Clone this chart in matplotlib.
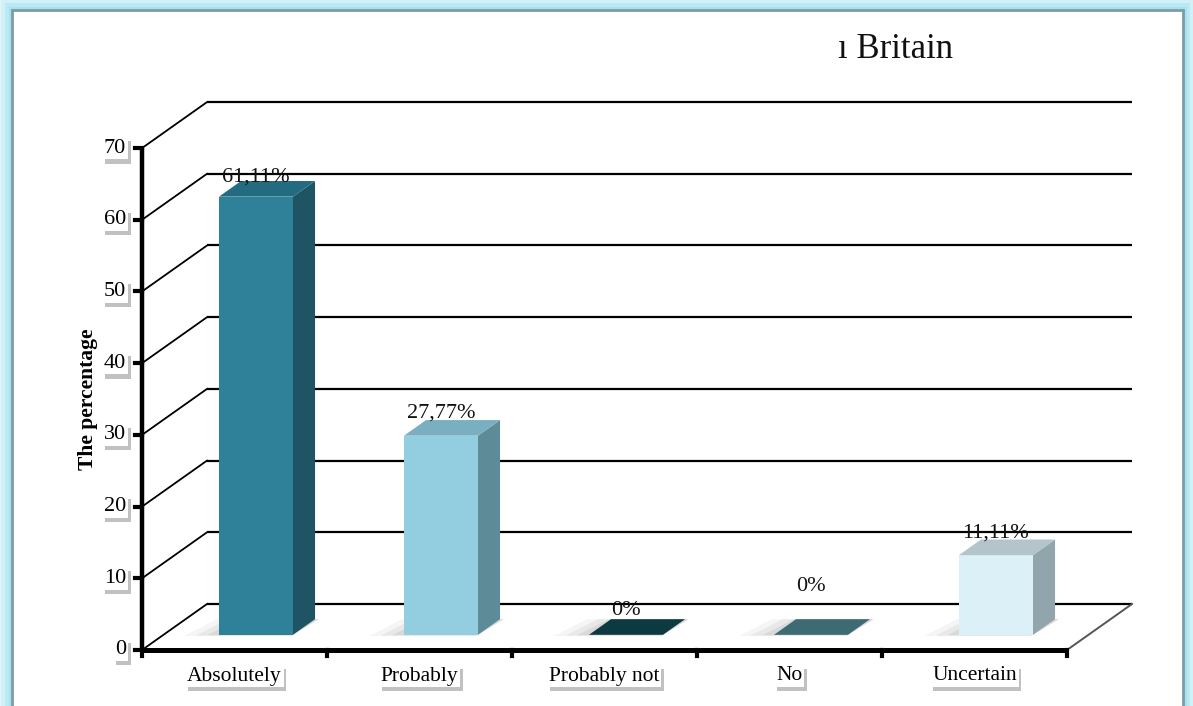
import matplotlib.pyplot as plt
from matplotlib.patches import Polygon, Rectangle
import matplotlib.patheffects as pe

categories = ["Absolutely", "Probably", "Probably not", "No", "Uncertain"]
values = [61.11, 27.77, 0, 0, 11.11]
value_labels = ["61,11%", "27,77%", "0%", "0%", "11,11%"]
y_ticks = [0, 10, 20, 30, 40, 50, 60, 70]

# front / top / side colours of each bar
front_cols = ["#2e8199", "#93cde0", "#0d3a40", "#3e6a73", "#dcf0f7"]
top_cols = ["#236b80", "#7aafc1", "#0d3a40", "#3e6a73", "#b3c4ca"]
side_cols = ["#1e5464", "#5e8b98", "#0a2f34", "#33585f", "#93a5ac"]
label_lift = [0.55, 1.0, 1.25, 4.5, 0.9]

W, H = 1193, 706
PX0, PY0 = 142, 650       # front origin of the plot in pixels
CAT_PX = 185              # pixels per category
VAL_PX = 7.17             # pixels per value unit
DX = 65 / CAT_PX          # depth shift in category units
DY = 46 / VAL_PX          # depth shift in value units
Z0, Z1 = 0.33, 0.67       # bar depth range
HALF = 0.2                # half bar width

SERIF = "Liberation Serif"


def proj(x, y, z):
    return (x + DX * z, y + DY * z)


fig = plt.figure(figsize=(W / 100, H / 100), dpi=100)
fig.patch.set_facecolor("#e3f6fb")
ax = fig.add_axes([0, 0, 1, 1])
ax.set_xlim(-0.5 - PX0 / CAT_PX, -0.5 + (W - PX0) / CAT_PX)
ax.set_ylim(-(H - PY0) / VAL_PX, PY0 / VAL_PX)
ax.axis("off")

# frame
for lw, a in [(16, 0.25), (10, 0.45), (5, 0.7)]:
    ax.add_patch(Rectangle((12 / W, -0.05), (1183 - 12) / W, 1.05 - 10 / H,
                           transform=ax.transAxes, fc="none", ec="#9fe0f0",
                           lw=lw, alpha=a, zorder=0))
ax.add_patch(Rectangle((12 / W, -0.05), (1183 - 12) / W, 1.05 - 10 / H,
                       transform=ax.transAxes, fc="white", ec="#7d9ca4",
                       lw=2, zorder=0.5))

x_left, x_right = -0.5, len(categories) - 0.5

# back wall grid lines and left wall diagonals
for v in y_ticks:
    bx0, by0 = proj(x_left, v, 1)
    bx1, by1 = proj(x_right, v, 1)
    ax.plot([bx0, bx1], [by0, by1], color="black", lw=1.6, zorder=1,
            solid_capstyle="butt")
    ax.plot([x_left, bx0], [v, by0], color="black", lw=1.3, zorder=1)

# floor right edge
fx, fy = proj(x_right, 0, 1)
ax.plot([x_right, fx], [0, fy], color="#555555", lw=1.4, zorder=1)

# bars
for i, v in enumerate(values):
    xl, xr = i - HALF, i + HALF
    # soft floor shadow
    for k, a in [(0.09, 0.06), (0.06, 0.08), (0.03, 0.10)]:
        sh = [proj(xl - 2 * k, 0, Z0 - k * 0.3), proj(xr, 0, Z0 - k * 0.3),
              proj(xr + 0.02, 0, Z1), proj(xl - 2 * k + 0.05, 0, Z1)]
        ax.add_patch(Polygon(sh, closed=True, fc="#555555", ec="none",
                             alpha=a, zorder=1.5))
    top = [proj(xl, v, Z0), proj(xr, v, Z0), proj(xr, v, Z1), proj(xl, v, Z1)]
    if v > 0:
        front = [proj(xl, 0, Z0), proj(xr, 0, Z0), proj(xr, v, Z0), proj(xl, v, Z0)]
        side = [proj(xr, 0, Z0), proj(xr, 0, Z1), proj(xr, v, Z1), proj(xr, v, Z0)]
        ax.add_patch(Polygon(side, closed=True, fc=side_cols[i], ec="none", zorder=2))
        ax.add_patch(Polygon(front, closed=True, fc=front_cols[i], ec="none", zorder=2))
    ax.add_patch(Polygon(top, closed=True, fc=top_cols[i], ec="none", zorder=2))

    lx, ly = proj(i, v, Z1)
    ax.text(i + DX * Z0, ly + label_lift[i], value_labels[i], ha="center",
            va="center", fontsize=16, family=SERIF, color="#111111", zorder=4)

# front axes
ax.plot([x_left, x_left], [0, y_ticks[-1]], color="black", lw=3.2, zorder=3,
        solid_capstyle="butt")
ax.plot([x_left, x_right], [0, 0], color="black", lw=3.6, zorder=3,
        solid_capstyle="butt")

shadow = [pe.SimplePatchShadow(offset=(2, -3), shadow_rgbFace="#666666", alpha=0.4),
          pe.Normal()]

for v in y_ticks:
    ax.plot([x_left - 7 / CAT_PX, x_left], [v, v], color="black", lw=3, zorder=3)
    t = ax.text(x_left - 16 / CAT_PX, v, str(v), ha="right", va="center",
                fontsize=16, family=SERIF, zorder=4,
                bbox=dict(boxstyle="square,pad=0.08", fc="white", ec="none"))
    t.get_bbox_patch().set_path_effects(shadow)

for b in range(len(categories) + 1):
    ax.plot([b - 0.5, b - 0.5], [0, -6 / VAL_PX], color="black", lw=3, zorder=3)

for i, c in enumerate(categories):
    t = ax.text(i, -26 / VAL_PX, c, ha="center", va="center", fontsize=15.5,
                family=SERIF, zorder=4,
                bbox=dict(boxstyle="square,pad=0.08", fc="white", ec="none"))
    t.get_bbox_patch().set_path_effects(shadow)

ax.text(x_left - 54 / CAT_PX, 35, "The percentage", rotation=90, ha="center",
        va="center", fontsize=15.5, fontweight="bold", family=SERIF, zorder=4)

fig.text(838 / W, 1 - 58 / H, "ı Britain", ha="left", va="baseline",
         fontsize=25, family=SERIF, color="#111111")

fig.savefig("out.png", dpi=100, facecolor=fig.get_facecolor())
plt.close(fig)
